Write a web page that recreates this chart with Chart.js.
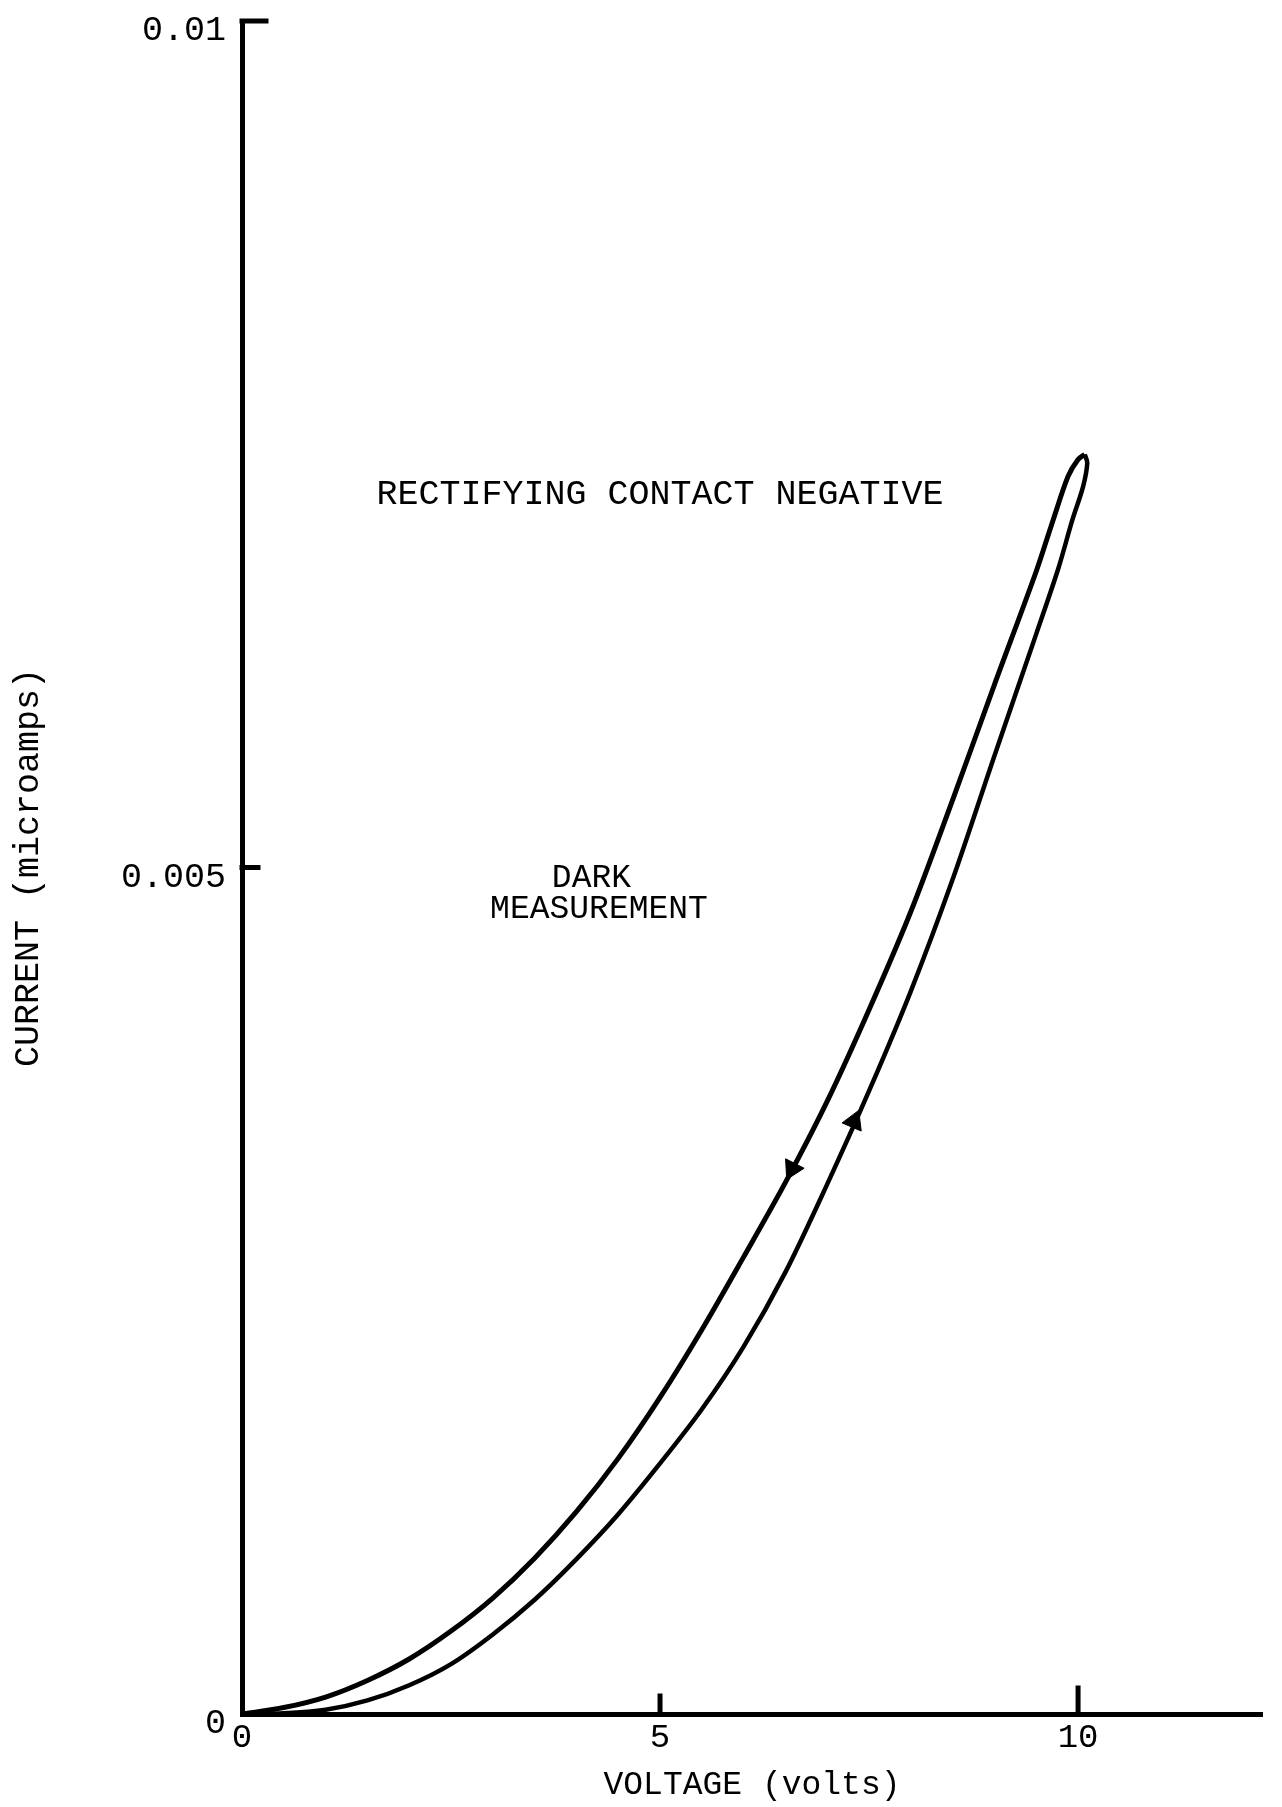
<!DOCTYPE html>
<html>
<head>
<meta charset="utf-8">
<script src="https://cdn.jsdelivr.net/npm/chart.js@4/dist/chart.umd.min.js"></script>
<style>
html,body{margin:0;padding:0;background:#fff;}
canvas{display:block;}
</style>
</head>
<body>
<canvas id="c" width="1282" height="1807"></canvas>
<script>
// ---- data ----
// forward sweep (lower branch, arrow pointing up)
const forwardVoltage = [0, 0.5, 1.0, 1.5, 2.0, 2.5, 3.0, 3.5, 4.0, 4.5, 5.0, 5.5, 6.0, 6.5, 7.0, 7.5, 8.0, 8.5, 9.0, 9.5, 9.76, 9.93, 10.06, 10.11, 10.08];
const forwardCurrent = [0, 0.000004, 0.000025, 0.00008, 0.00017, 0.000295, 0.00047, 0.000675, 0.000915, 0.00118, 0.00148, 0.00180, 0.00217, 0.00261, 0.00313, 0.00368, 0.00427, 0.00493, 0.00566, 0.00638, 0.00676, 0.00705, 0.00725, 0.00739, 0.00744];
// reverse sweep (upper branch, arrow pointing down)
const reverseVoltage = [10.08, 10.00, 9.88, 9.70, 9.5, 9.0, 8.5, 8.0, 7.5, 7.0, 6.5, 6.0, 5.5, 5.0, 4.5, 4.0, 3.5, 3.0, 2.5, 2.0, 1.5, 1.0, 0.5, 0];
const reverseCurrent = [0.00744, 0.00741, 0.00731, 0.00705, 0.00675, 0.00608, 0.00540, 0.00474, 0.00416, 0.00362, 0.00314, 0.00270, 0.00227, 0.00187, 0.00151, 0.001195, 0.00092, 0.000685, 0.00049, 0.000325, 0.000198, 0.00010, 0.000038, 0];
// arrowheads on the two branches (reverse, forward)
const arrowVoltage = [6.58, 7.32];
const arrowCurrent = [0.00322, 0.00350];

const xTickValues = [0, 5, 10];
const xTickLabels = ['0', '5', '10'];
const yTickValues = [0, 0.005, 0.01];
const yTickLabels = ['0', '0.005', '0.01'];

const xTitle = 'VOLTAGE (volts)';
const yTitle = 'CURRENT (microamps)';
const noteTexts = ['RECTIFYING CONTACT NEGATIVE', 'DARK', 'MEASUREMENT'];

// ---- layout / style (not data) ----
const notePlacement = [
  {x: 5.0, y: 0.00720, size: 35},
  {x: 4.18, y: 0.004935, size: 33},
  {x: 4.27, y: 0.004753, size: 33}
];
const arrowRotation = [207, 23];
const yTickMarkLen = [0, 16, 24];
const xTickMarkLen = [0, 18, 26];
const FONT = "'Liberation Mono', 'DejaVu Sans Mono', monospace";

Chart.defaults.font.family = FONT;
Chart.defaults.color = '#000';

const toPoints = (xs, ys) => xs.map((v, i) => ({x: v, y: ys[i]}));

const inwardTicks = {
  id: 'inwardTicks',
  afterDraw(chart) {
    const {ctx, scales: {x, y}} = chart;
    ctx.save();
    ctx.strokeStyle = '#000';
    ctx.lineWidth = 5;
    ctx.lineCap = 'square';
    yTickValues.forEach((v, i) => {
      if (!yTickMarkLen[i]) return;
      const py = y.getPixelForValue(v);
      ctx.beginPath();
      ctx.moveTo(x.left, py);
      ctx.lineTo(x.left + yTickMarkLen[i], py);
      ctx.stroke();
    });
    xTickValues.forEach((v, i) => {
      if (!xTickMarkLen[i]) return;
      const px = x.getPixelForValue(v);
      ctx.beginPath();
      ctx.moveTo(px, y.bottom);
      ctx.lineTo(px, y.bottom - xTickMarkLen[i]);
      ctx.stroke();
    });
    ctx.restore();
  }
};

const notes = {
  id: 'notes',
  afterDraw(chart) {
    const {ctx, scales: {x, y}} = chart;
    ctx.save();
    ctx.fillStyle = '#000';
    ctx.textAlign = 'center';
    ctx.textBaseline = 'middle';
    noteTexts.forEach((t, i) => {
      const p = notePlacement[i];
      ctx.font = p.size + 'px ' + FONT;
      ctx.fillText(t, x.getPixelForValue(p.x), y.getPixelForValue(p.y));
    });
    ctx.restore();
  }
};

new Chart(document.getElementById('c'), {
  type: 'scatter',
  data: {
    datasets: [
      {
        label: 'forward',
        data: toPoints(forwardVoltage, forwardCurrent),
        showLine: true,
        borderColor: '#000',
        borderWidth: 4.5,
        pointRadius: 0,
        tension: 0.3,
        fill: false
      },
      {
        label: 'reverse',
        data: toPoints(reverseVoltage, reverseCurrent),
        showLine: true,
        borderColor: '#000',
        borderWidth: 5,
        pointRadius: 0,
        tension: 0.3,
        fill: false
      },
      {
        label: 'arrows',
        data: toPoints(arrowVoltage, arrowCurrent),
        showLine: false,
        pointStyle: 'triangle',
        pointRadius: 12,
        pointRotation: arrowRotation,
        backgroundColor: '#000',
        borderColor: '#000',
        borderWidth: 1
      }
    ]
  },
  options: {
    responsive: false,
    animation: false,
    devicePixelRatio: 1,
    events: [],
    layout: {autoPadding: false, padding: {top: 21, right: 20, left: 0, bottom: 0}},
    plugins: {legend: {display: false}, tooltip: {enabled: false}},
    scales: {
      x: {
        type: 'linear',
        min: 0,
        max: 12.2,
        afterFit(s) { s.height = 93; s.paddingLeft = 0; s.paddingRight = 0; },
        afterBuildTicks(s) { s.ticks = xTickValues.map(v => ({value: v})); },
        ticks: {
          callback: (v) => { const i = xTickValues.indexOf(v); return i >= 0 ? xTickLabels[i] : ''; },
          font: {size: 34},
          color: '#000',
          padding: 4,
          maxRotation: 0,
          autoSkip: false
        },
        grid: {drawOnChartArea: false, drawTicks: false},
        border: {display: true, color: '#000', width: 5},
        title: {display: true, text: xTitle, color: '#000', font: {size: 33}, padding: {top: 0, bottom: 2}}
      },
      y: {
        type: 'linear',
        min: 0,
        max: 0.01,
        afterFit(s) { s.width = 242; s.paddingTop = 0; s.paddingBottom = 0; },
        afterBuildTicks(s) { s.ticks = yTickValues.map(v => ({value: v})); },
        ticks: {
          callback: (v) => { const i = yTickValues.indexOf(v); return i >= 0 ? yTickLabels[i] : ''; },
          font: {size: 35},
          color: '#000',
          padding: 16,
          labelOffset: 10,
          autoSkip: false
        },
        grid: {drawOnChartArea: false, drawTicks: false},
        border: {display: true, color: '#000', width: 5},
        title: {display: true, text: yTitle, color: '#000', font: {size: 35}, padding: {top: 8, bottom: 0}}
      }
    }
  },
  plugins: [inwardTicks, notes]
});
</script>
</body>
</html>
